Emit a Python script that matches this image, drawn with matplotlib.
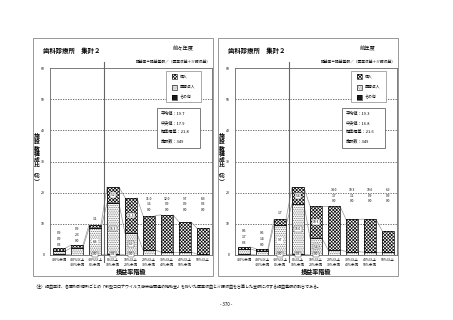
import matplotlib
matplotlib.use('Agg')
import matplotlib.pyplot as plt
from matplotlib.patches import Rectangle
import numpy as np

plt.rcParams['font.family'] = ['Noto Sans CJK JP', 'DejaVu Sans']
plt.rcParams['hatch.linewidth'] = 0.5

categories = ['-20%未満', '-20%以上\n-10%未満', '-10%以上\n0%未満', '0%以上\n10%未満',
              '10%以上\n20%未満', '20%以上\n30%未満', '30%以上\n40%未満',
              '40%以上\n50%未満', '50%以上']
series_names = ['個人', '医療法人', 'その他']

prev2_kojin = [0.9, 0.9, 1.1, 5.2, 11.5, 11.0, 12.0, 9.7, 8.3]
prev2_iryo = [0.9, 2.3, 8.6, 16.3, 6.9, 1.6, 0.9, 0.9, 0.3]
prev2_sonota = [0.3, 0.0, 0.0, 0.3, 0.0, 0.0, 0.0, 0.0, 0.0]

prev1_kojin = [0.6, 0.6, 1.7, 5.4, 10.3, 14.0, 10.3, 10.6, 6.9]
prev1_iryo = [1.7, 1.4, 9.7, 16.0, 5.4, 1.7, 1.1, 0.9, 0.9]
prev1_sonota = [0.3, 0.0, 0.0, 0.3, 0.0, 0.0, 0.0, 0.0, 0.0]

stats_labels = ['平均値', '中央値', '標準偏差', '施設数']
prev2_stats = ['19.7', '17.9', '21.8', '349']
prev1_stats = ['19.3', '16.8', '21.6', '349']
panel_years = ['前々年度', '前年度']
yticks = [0, 10, 20, 30, 40, 50, 60]

title_text = '歯科診療所　集計２'
formula_text = '損益率＝損益差額／（医業収益＋介護収益）'
xlabel_text = '損益率階級'
ylabel_text = '施設数構成比︵%︶'
note_text = ('（注）損益率は、各歯科診療所ごとの「新型コロナウイルス感染症関連の補助金」を除いた'
             '医業収益と介護収益を合算した金額に対する損益差額の割合である。')
page_text = '- 370 -'

W, H = 453, 320
fig = plt.figure(figsize=(W / 100, H / 100), dpi=100)


def fx(px):
    return px / W


def fy(py):
    return 1 - py / H


KOJIN = dict(facecolor='white', hatch='x' * 10, edgecolor='#111')
IRYO = dict(facecolor='white', hatch='.' * 9, edgecolor='#6a6a6a')
SONOTA = dict(facecolor='#1a1a1a', edgecolor='#1a1a1a')


def patch(x0, y0, x1, y1, style, z=6, lw=0.0):
    r = Rectangle((fx(x0), fy(y1)), fx(x1) - fx(x0), fy(y0) - fy(y1),
                  transform=fig.transFigure, lw=lw, zorder=z, **style)
    fig.add_artist(r)
    return r


def panel(ox, kojin, iryo, sonota, stats, year):
    ko = np.array(kojin)
    iy = np.array(iryo)
    so = np.array(sonota)
    b1 = so
    b2 = so + iy
    top = b2 + ko
    x = np.arange(len(categories))
    w = 0.66

    # outer frame
    fig.add_artist(Rectangle((fx(33 + ox), fy(276)), 180 / W, (276 - 38) / H,
                             transform=fig.transFigure, fill=False, ec='#888', lw=0.6))
    fig.text(fx(43 + ox), fy(51), title_text, fontsize=4.6, fontweight='bold', va='center')
    fig.text(fx(183 + ox), fy(49), year, fontsize=3.8, ha='center', va='center')
    fig.text(fx(211 + ox), fy(63), formula_text, fontsize=2.7, ha='right', va='center')

    ax = fig.add_axes([fx(50 + ox), fy(255), 162 / W, 187 / H])
    ax.set_xlim(-0.5, 8.5)
    ax.set_ylim(0, 60)
    for s in ax.spines.values():
        s.set_color('#666')
        s.set_linewidth(0.6)

    for yv in yticks[1:-1]:
        ax.axhline(yv, color='#555', lw=0.6, ls=(0, (1.5, 1.5)), zorder=1)

    # bars
    ax.bar(x, so, w, bottom=0, lw=0.4, zorder=3, **SONOTA)
    ax.bar(x, iy, w, bottom=b1, lw=0, zorder=3, **IRYO)
    ax.bar(x, iy, w, bottom=b1, fill=False, edgecolor='black', lw=0.5, zorder=4)
    ax.bar(x, ko, w, bottom=b2, lw=0, zorder=3, **KOJIN)
    ax.bar(x, ko, w, bottom=b2, fill=False, edgecolor='black', lw=0.5, zorder=4)

    # series lines
    for lev in (b1, b2, top):
        for i in range(len(x) - 1):
            ax.plot([x[i] + w / 2, x[i + 1] - w / 2], [lev[i], lev[i + 1]],
                    color='#999', lw=0.5, zorder=2)

    # 0% line
    ax.plot([2.5, 2.5], [-0.04, 1.03], transform=ax.get_xaxis_transform(),
            clip_on=False, color='#666', lw=0.8, zorder=5)

    # data labels
    fs = 2.4
    box = dict(boxstyle='square,pad=0.25', fc='white', ec='#333', lw=0.3)
    grp_base = max(top[5:]) + 1.5
    for i in range(len(x)):
        vals = [ko[i], iy[i], so[i]]
        txt = [f'{v:.1f}' for v in vals]
        if i <= 1:
            for t, dy in zip(txt, (5.0, 3.1, 1.2)):
                ax.text(x[i], top[i] + dy, t, fontsize=fs, ha='center', va='center', zorder=6)
        elif i == 2:
            ax.text(x[i], top[i] + 2.0, txt[0], fontsize=fs, ha='center', va='center', zorder=6)
            ax.text(x[i], b1[i] + iy[i] / 2, txt[1], fontsize=fs, ha='center', va='center',
                    zorder=6, bbox=dict(boxstyle='square,pad=0.2', fc='white', ec='none'))
            ax.text(x[i], 0.2, txt[2], fontsize=fs, ha='center', va='center', zorder=6, bbox=box)
        elif i <= 4:
            ax.text(x[i], b2[i] + ko[i] / 2, txt[0], fontsize=fs, ha='center', va='center',
                    zorder=6, bbox=box)
            ax.text(x[i], b1[i] + iy[i] / 2, txt[1], fontsize=fs, ha='center', va='center',
                    zorder=6, bbox=box)
            ax.text(x[i], 0.2, txt[2], fontsize=fs, ha='center', va='center', zorder=6, bbox=box)
        else:
            for t, dy in zip(txt, (3.7, 1.85, 0.0)):
                ax.text(x[i], grp_base + dy, t, fontsize=fs, ha='center', va='center', zorder=6)

    ax.set_yticks(yticks)
    ax.tick_params(axis='y', length=0, pad=4, labelsize=2.5)
    ax.set_xticks(x, categories)
    ax.tick_params(axis='x', length=0, pad=2, labelsize=2.5)
    for lbl in ax.get_xticklabels():
        lbl.set_linespacing(1.4)
    ax.set_xlabel(xlabel_text, fontsize=4.4, fontweight='bold', labelpad=0.5)

    # vertical y label
    fig.text(fx(37 + ox), fy(159), '\n'.join(ylabel_text), fontsize=4.2,
             ha='center', va='center', linespacing=1.1, fontweight='bold')

    # legend box
    patch(166 + ox, 71, 201 + ox, 102, dict(facecolor='white', edgecolor='#888'), z=5, lw=0.5)
    styles = [KOJIN, IRYO, SONOTA]
    for k, (name, st) in enumerate(zip(series_names, styles)):
        yc = 76.5 + k * 10.5
        patch(172 + ox, yc - 2.5, 177 + ox, yc + 2.5, st, z=6, lw=0)
        fig.add_artist(Rectangle((fx(172 + ox), fy(yc + 2.5)), 5 / W, 5 / H,
                                 transform=fig.transFigure, fill=False, ec='black', lw=0.4, zorder=7))
        fig.text(fx(179.5 + ox), fy(yc), name, fontsize=2.8, va='center', zorder=8)

    # stats box
    patch(157 + ox, 108, 200 + ox, 148, dict(facecolor='white', edgecolor='#666'), z=5, lw=0.6)
    for k, (lab, val) in enumerate(zip(stats_labels, stats)):
        fig.text(fx(161 + ox), fy(114 + k * 9), f'{lab}：{val}', fontsize=3.0,
                 va='center', zorder=8)
    return ax


panel(0, prev2_kojin, prev2_iryo, prev2_sonota, prev2_stats, panel_years[0])
panel(185, prev1_kojin, prev1_iryo, prev1_sonota, prev1_stats, panel_years[1])

fig.text(fx(33), fy(287), note_text, fontsize=2.9, va='center')
fig.text(fx(226), fy(304), page_text, fontsize=3.2, ha='center', va='center')

fig.savefig('out.png', dpi=100)
